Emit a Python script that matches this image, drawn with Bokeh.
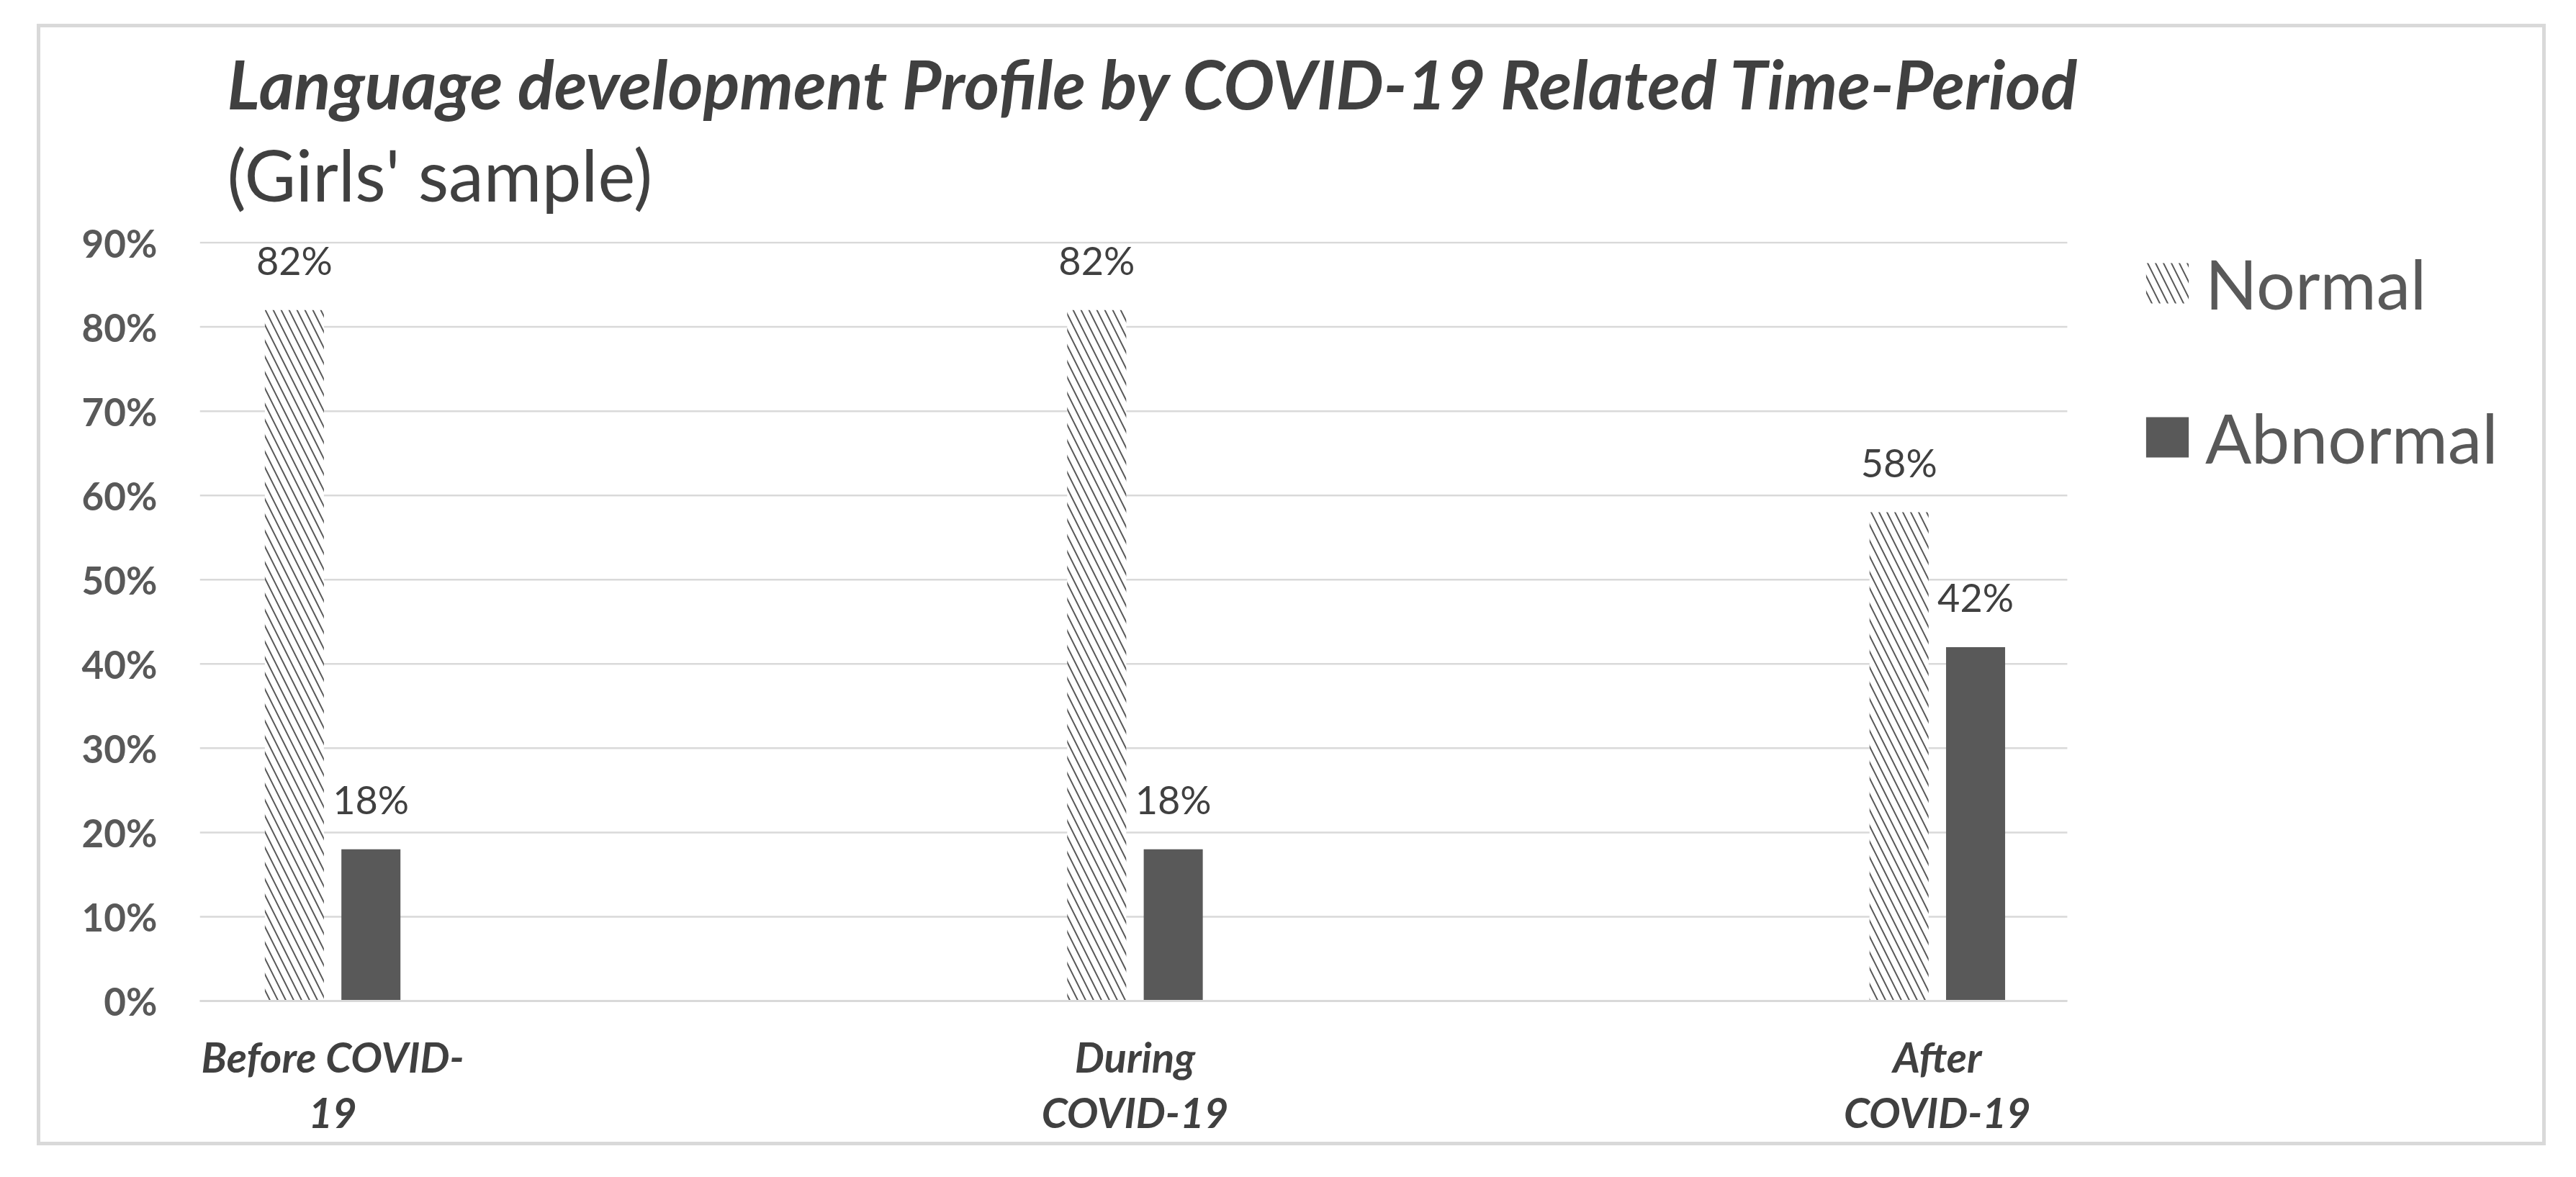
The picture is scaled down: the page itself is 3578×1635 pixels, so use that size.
from bokeh.plotting import figure
from bokeh.models import (ColumnDataSource, Range1d, FixedTicker, NumeralTickFormatter,
                          LabelSet, Legend, LegendItem, Title)
from bokeh.core.properties import value
from bokeh.transform import dodge
from bokeh.embed import file_html
from bokeh.resources import INLINE

# ---- data ----
categories = ["Before COVID-19", "During COVID-19", "After COVID-19"]
tick_labels = ["Before COVID-\n19", "During\nCOVID-19", "After\nCOVID-19"]
series = ["Normal", "Abnormal"]
normal = [0.82, 0.82, 0.58]
abnormal = [0.18, 0.18, 0.42]
y_ticks = [0.0, 0.1, 0.2, 0.3, 0.4, 0.5, 0.6, 0.7, 0.8, 0.9]

title_text = "Language development Profile by COVID-19 Related Time-Period"
subtitle_text = "(Girls' sample)"

FONT = "Lato"
DARK = "#404040"
MID = "#595959"
GRID = "#d9d9d9"

pos = list(range(len(categories)))
src = ColumnDataSource(dict(
    x=pos,
    normal=normal,
    abnormal=abnormal,
    nlab=[f"{round(v * 100)}%" for v in normal],
    alab=[f"{round(v * 100)}%" for v in abnormal],
))

X_START, GRID_END, X_END = -0.1656, 2.162, 2.7561

W, H = 3475, 1548
p = figure(width=W, height=H, output_backend="svg", toolbar_location=None,
           x_range=Range1d(X_START, X_END), y_range=Range1d(0, 0.9013),
           min_border_left=221, min_border_right=8, min_border_top=297,
           min_border_bottom=206, title=None, margin=(33, 0, 0, 51))
p.styles = {"border": f"5px solid {GRID}", "box-sizing": "content-box"}
p.outline_line_color = None
p.background_fill_color = "white"
p.border_fill_color = "white"

# horizontal gridlines limited to the category area
p.ygrid.visible = False
p.xgrid.visible = False
grid_src = ColumnDataSource(dict(y=y_ticks, x0=[X_START] * len(y_ticks),
                                 x1=[GRID_END] * len(y_ticks)))
p.segment(x0="x0", x1="x1", y0="y", y1="y", source=grid_src,
          line_color=GRID, line_width=2.5)

off = 0.0477
bw = 0.0736
rn = p.vbar(x=dodge("x", -off, range=p.x_range), top="normal", width=bw, source=src,
            fill_color="white", line_color=None,
            hatch_pattern="\\", hatch_color=MID, hatch_weight=2, hatch_scale=22)
ra = p.vbar(x=dodge("x", off, range=p.x_range), top="abnormal", width=bw, source=src,
            fill_color=MID, line_color=None)

lab_kw = dict(source=src, y_offset=49, text_align="center", text_baseline="alphabetic",
              text_font=value(FONT), text_font_size="54px", text_color=DARK)
p.add_layout(LabelSet(x=dodge("x", -off, range=p.x_range), y="normal", text="nlab", **lab_kw))
p.add_layout(LabelSet(x=dodge("x", off, range=p.x_range), y="abnormal", text="alab", **lab_kw))

# axes
ya = p.yaxis[0]
ya.ticker = FixedTicker(ticks=y_ticks)
ya.formatter = NumeralTickFormatter(format="0%")
ya.major_label_text_font = FONT
ya.major_label_text_font_size = "53px"
ya.major_label_text_font_style = "bold"
ya.major_label_text_color = MID
ya.major_label_standoff = 53
ya.axis_line_color = None
ya.major_tick_line_color = None
ya.minor_tick_line_color = None

xa = p.xaxis[0]
xa.ticker = FixedTicker(ticks=pos)
xa.bounds = (X_START, GRID_END)
xa.major_label_overrides = {i: t for i, t in zip(pos, tick_labels)}
xa.major_label_text_font = FONT
xa.major_label_text_font_size = "58px"
xa.major_label_text_font_style = "bold italic"
xa.major_label_text_color = DARK
xa.major_label_text_line_height = 1.13
xa.major_label_standoff = 36
xa.axis_line_color = GRID
xa.axis_line_width = 3
xa.major_tick_line_color = None
xa.minor_tick_line_color = None

# legend, inside the (extended) plot area to the right of the bars
legend = Legend(items=[LegendItem(label=series[0], renderers=[rn]),
                       LegendItem(label=series[1], renderers=[ra])],
                location=(2696, 726), orientation="vertical",
                glyph_width=74, glyph_height=70, label_standoff=16, spacing=100,
                padding=0, margin=0, border_line_color=None, background_fill_alpha=0,
                label_text_font=FONT, label_text_font_size="95px", label_text_color=MID)
p.add_layout(legend, "center")

# titles
sub = Title(text=subtitle_text, text_font=FONT, text_font_size="98px",
            text_font_style="normal", text_color=DARK, align="left", offset=38, standoff=70)
main = Title(text=title_text, text_font=FONT, text_font_size="94px",
             text_font_style="bold italic", text_color=DARK, align="left", offset=38, standoff=-53)
p.add_layout(sub, "above")
p.add_layout(main, "above")

open("out.html", "w").write(file_html(p, INLINE))
